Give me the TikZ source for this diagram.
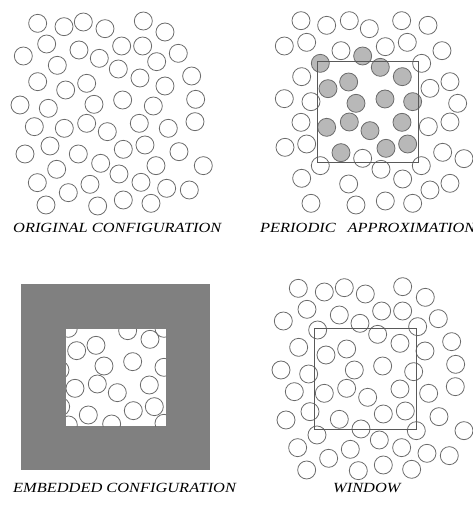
\documentclass[tikz,border=0pt]{standalone}
\usepackage{fontspec}
\setmainfont{Liberation Serif}
\newfontfamily\capfont[FakeStretch=1.17]{Liberation Serif}

\tikzset{
  ball/.style={draw=black!58, line width=0.8pt},
  pball/.style={ball, fill=black!28},
  frame/.style={draw=black!65, line width=0.8pt},
  caption/.style={font=\capfont\fontsize{14}{16}\selectfont\itshape, inner sep=0pt, anchor=west}
}

\begin{document}
\begin{tikzpicture}[x=1pt, y=-1pt]
	\useasboundingbox (0,0) rectangle (473,507);
	% original configuration
	\begin{scope}[x=0.3333pt, y=-0.3333pt]
		\foreach \p in {(113,70),(192,80),(250,66),(315,86),(430,63),(495,96),
			(140,132),(237,150),(365,138),(428,138),(535,160),(70,168),(298,175),
			(172,196),(355,207),(470,185),(113,245),(197,270),(260,250),(420,234),
			(495,258),(575,228),(60,315),(145,325),(282,313),(368,300),(460,318),
			(587,298),(103,380),(193,385),(260,370),(322,395),(418,370),(505,385),
			(585,365),(150,438),(75,462),(235,462),(370,448),(435,435),(537,455),
			(302,490),(170,508),(468,497),(610,497),(357,522),(112,548),(270,553),
			(423,547),(205,578),(500,565),(568,570),(138,615),(293,618),(370,600),
			(453,610)}
			\draw[ball] \p circle (9pt);
	\end{scope}
	% periodic approximation
	\begin{scope}[shift={(236pt,0pt)}, x=0.3333pt, y=-0.3333pt]
		\foreach \p in {(195,62),(272,76),(340,62),(400,86),(497,62),(576,76),
			(145,138),(212,127),(315,152),(448,140),(514,127),(618,152),(557,190),
			(197,230),(582,265),(642,245),(145,296),(225,305),(665,310),(195,367),
			(577,380),(642,366),(147,442),(212,432),(380,475),(620,457),(684,476),
			(253,497),(435,508),(556,497),(197,535),(338,552),(500,537),(582,570),
			(642,550),(225,610),(360,615),(448,603),(530,610)}
			\draw[ball] \p circle (9pt);
		\foreach \p in {(253,190),(380,168),(433,202),(499,230),(276,266),(338,246),
			(360,310),(447,297),(530,305),(272,382),(340,366),(402,392),(498,367),
			(315,458),(450,445),(515,432)}
			\draw[pball] \p circle (9pt);
		\coordinate (pa) at (244,184);
		\coordinate (pb) at (547,487);
		\draw[frame] (pa) rectangle (pb);
	\end{scope}
	% embedded configuration
	\fill[black!50] (21,284) rectangle (210,470);
	\fill[white] (66,329) rectangle (166,426);
	\begin{scope}
		\clip (66,329) rectangle (166,426);
		\begin{scope}[shift={(0pt,-260pt)}, x=0.3333pt, y=-0.3333pt]
			\foreach \p in {(230,272),(288,256),(312,318),(398,305),(450,238),(383,212),
				(492,322),(225,385),(292,372),(352,398),(448,375),(400,452),(463,440),
				(265,465),(335,492),(180,330),(182,440),(205,495),(492,490),(492,205),
				(205,205)}
				\draw[ball] \p circle (9pt);
		\end{scope}
	\end{scope}
	% window
	\begin{scope}[shift={(236pt,-260pt)}, x=0.3333pt, y=-0.3333pt]
		\foreach \p in {(187,85),(265,96),(325,83),(388,102),(500,80),(568,112),
			(213,148),(310,165),(437,153),(500,153),(607,176),(142,183),(372,190),
			(545,200),(245,210),(425,223),(492,250),(647,245),(188,262),(270,285),
			(332,267),(567,273),(135,330),(218,342),(355,330),(440,318),(533,335),
			(659,313),(175,395),(265,400),(332,385),(395,412),(492,387),(578,400),
			(658,380),(222,455),(310,478),(442,462),(508,453),(609,470),(150,480),
			(375,507),(541,512),(684,512),(243,525),(430,540),(185,563),(343,568),
			(497,563),(573,580),(640,587),(278,595),(212,630),(367,632),(442,615),
			(527,628)}
			\draw[ball] \p circle (9pt);
		\coordinate (wa) at (236,205);
		\coordinate (wb) at (541,507);
		\draw[frame] (wa) rectangle (wb);
	\end{scope}
	% captions
	\node[caption] (orig) at (13,228) {ORIGINAL CONFIGURATION};
	\node[caption] (peri) at (260,228) {PERIODIC\hspace{12pt}APPROXIMATION};
	\node[caption] (embd) at (13,488) {EMBEDDED CONFIGURATION};
	\node[caption] (wind) at (333,488) {WINDOW};
\end{tikzpicture}
\end{document}
